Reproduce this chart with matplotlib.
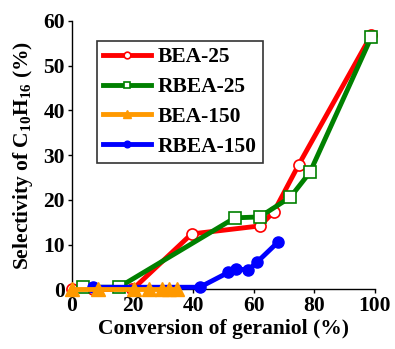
import matplotlib
matplotlib.use("Agg")
import matplotlib.pyplot as plt

# Data
bea25_x = [0, 7, 20, 39.5, 62.1, 66.7, 74.9, 98.8]
bea25_y = [0, 0, 0, 12.4, 14.2, 17.4, 27.9, 56.8]

rbea25_x = [3.7, 15.5, 53.8, 62.0, 72.1, 78.6, 98.8]
rbea25_y = [0.5, 0.5, 16.0, 16.2, 20.6, 26.2, 56.3]

bea150_x = [0, 8.6, 20.5, 25.3, 29.9, 32.2, 34.8]
bea150_y = [0, 0, 0, 0, 0, 0, 0]

rbea150_x = [7.1, 42.2, 51.6, 54.3, 58.2, 61.1, 67.9]
rbea150_y = [0.5, 0.5, 3.8, 4.6, 4.35, 6.1, 10.5]

xticks = [0, 20, 40, 60, 80, 100]
yticks = [0, 10, 20, 30, 40, 50, 60]

plt.rcParams['font.family'] = ['Liberation Serif', 'DejaVu Serif']
plt.rcParams['font.weight'] = 'bold'
plt.rcParams['mathtext.fontset'] = 'custom'
plt.rcParams['mathtext.rm'] = 'Liberation Serif:bold'
plt.rcParams['mathtext.bf'] = 'Liberation Serif:bold'
plt.rcParams['mathtext.it'] = 'Liberation Serif:bold'

FS = 15.5

fig = plt.figure(figsize=(3.95, 3.49), dpi=100)
ax = fig.add_axes([0.182, 0.1705, 0.767, 0.770])

lw = 3.5
ax.plot(bea25_x, bea25_y, color='#ff0000', lw=lw, marker='o', ms=8,
        mfc='white', mec='#ff0000', mew=1.2, label='BEA-25', clip_on=False, zorder=3)
ax.plot(rbea25_x, rbea25_y, color='#008000', lw=lw, marker='s', ms=8,
        mfc='white', mec='#008000', mew=1.2, label='RBEA-25', clip_on=False, zorder=4)
ax.plot(rbea150_x, rbea150_y, color='#0000ff', lw=lw, marker='o', ms=8,
        mfc='#0000ff', mec='#0000ff', label='RBEA-150', clip_on=False, zorder=5)
ax.plot(bea150_x, bea150_y, color='#ff9900', lw=lw, marker='^', ms=10,
        mfc='#ff9900', mec='#ff9900', label='BEA-150', clip_on=False, zorder=6)

ax.set_xlim(0, 100)
ax.set_ylim(0, 60)
ax.set_xticks(xticks)
ax.set_yticks(yticks)
ax.tick_params(labelsize=FS, width=1, length=3, pad=2)
for lab in ax.get_xticklabels() + ax.get_yticklabels():
    lab.set_fontweight('bold')
ax.spines['top'].set_visible(False)
ax.spines['right'].set_visible(False)
for s in ['left', 'bottom']:
    ax.spines[s].set_linewidth(1)

ax.set_xlabel('Conversion of geraniol (%)', fontsize=FS, fontweight='bold', labelpad=2)
ax.set_ylabel('Selectivity of C$_{10}$H$_{16}$ (%)', fontsize=FS, fontweight='bold', labelpad=6)

handles, labels = ax.get_legend_handles_labels()
order = [0, 1, 3, 2]
leg = ax.legend([handles[i] for i in order], [labels[i] for i in order],
                loc='upper left', bbox_to_anchor=(0.083, 0.925), frameon=True,
                fancybox=False, edgecolor='black',
                prop={'weight': 'bold', 'size': FS}, handlelength=2.2,
                handletextpad=0.3, labelspacing=0.45, borderpad=0.3,
                borderaxespad=0, markerscale=0.6)
leg.get_frame().set_linewidth(1.2)

fig.savefig('out.png', dpi=100)
